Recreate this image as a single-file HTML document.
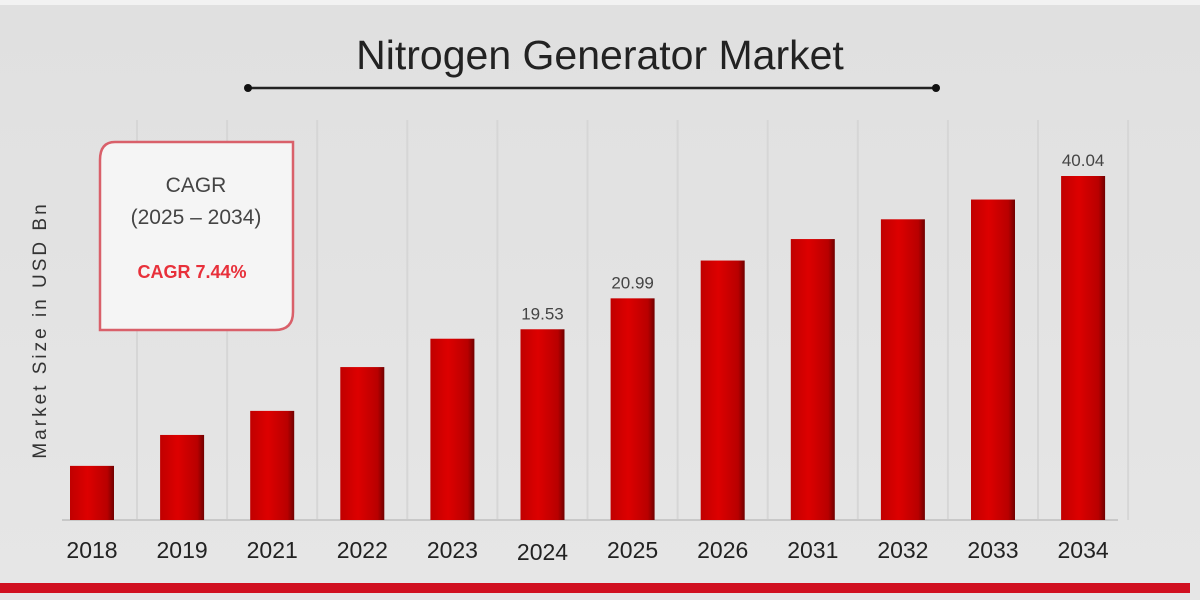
<!DOCTYPE html>
<html><head><meta charset="utf-8"><style>
html,body{margin:0;padding:0;width:1200px;height:600px;overflow:hidden;background:#e2e2e2;font-family:"Liberation Sans",sans-serif;}
</style></head><body>
<svg id="chart" width="1200" height="600" viewBox="0 0 1200 600">
<defs>
<linearGradient id="bg" x1="0" y1="0" x2="0" y2="1"><stop offset="0" stop-color="#e0e0e0"/><stop offset="1" stop-color="#e6e6e6"/></linearGradient>
<linearGradient id="bar" x1="0" y1="0" x2="1" y2="0"><stop offset="0" stop-color="#c00000"/><stop offset="0.4" stop-color="#dd0000"/><stop offset="0.85" stop-color="#b80000"/><stop offset="1" stop-color="#700000"/></linearGradient>
</defs>
<rect x="0" y="0" width="1200" height="600" fill="url(#bg)"/>
<rect x="0" y="0" width="1200" height="5" fill="#f2f2f2"/>
<g id="grid"></g>
<text x="600" y="69" text-anchor="middle" font-size="41" fill="#222">Nitrogen Generator Market</text>
<line x1="248" y1="88" x2="936" y2="88" stroke="#222" stroke-width="2.5"/>
<circle cx="248" cy="88" r="4" fill="#111"/>
<circle cx="936" cy="88" r="4" fill="#111"/>
<g>
<path d="M115 142 H293 V312 Q293 330 275 330 H100 V160 Q100 142 115 142 Z" fill="#f5f5f5" stroke="#d9606a" stroke-width="2.5"/>
<text x="196" y="192" text-anchor="middle" font-size="21" fill="#444">CAGR</text>
<text x="196" y="224" text-anchor="middle" font-size="21" fill="#444">(2025 – 2034)</text>
<text x="192" y="278" text-anchor="middle" font-size="18" font-weight="bold" fill="#e8303a">CAGR  7.44%</text>
</g>
<text transform="translate(46,330) rotate(-90)" text-anchor="middle" font-size="19" letter-spacing="3" fill="#333">Market Size in USD Bn</text>
<line x1="62" y1="520" x2="1118" y2="520" stroke="#c8c8c8" stroke-width="2"/>
<g id="bars"></g>
<g id="labels"></g>
<rect x="0" y="583" width="1190" height="10" fill="#d01020"/>
</svg>
<script>
const categories=["2018","2019","2021","2022","2023","2024","2025","2026","2031","2032","2033","2034"];
const values=[6.3,9.9,12.7,17.8,21.1,22.2,25.8,30.2,32.7,35.0,37.3,40.04];
const valueLabels=["","","","","","19.53","20.99","","","","","40.04"];
const yMax=40.04;
const NS="http://www.w3.org/2000/svg";
const x0=70,step=90.1,bw=44,base=520,plotH=344;
function xScale(i){return x0+i*step;}
function yScale(v){return base-v/yMax*plotH;}
const gb=document.getElementById('bars'),gl=document.getElementById('labels'),gg=document.getElementById('grid');
categories.forEach((c,i)=>{
  const x=xScale(i),y=yScale(values[i]);
  const gl1=document.createElementNS(NS,'line');
  gl1.setAttribute('x1',x+bw/2+45);gl1.setAttribute('x2',x+bw/2+45);gl1.setAttribute('y1',120);gl1.setAttribute('y2',520);
  gl1.setAttribute('stroke','#d6d6d6');gl1.setAttribute('stroke-width','2');
  
  
  gg.appendChild(gl1);
  const r=document.createElementNS(NS,'rect');
  r.setAttribute('x',x);r.setAttribute('y',y);r.setAttribute('width',bw);r.setAttribute('height',base-y);r.setAttribute('fill','url(#bar)');
  
  
  gb.appendChild(r);
  const t=document.createElementNS(NS,'text');
  t.setAttribute('x',x+bw/2);t.setAttribute('y',i===5?560:558);t.setAttribute('text-anchor','middle');t.setAttribute('font-size','23');t.setAttribute('fill','#222');
  t.textContent=c;
  
  
  gl.appendChild(t);
  if(valueLabels[i]){
    const v=document.createElementNS(NS,'text');
    v.setAttribute('x',x+bw/2);v.setAttribute('y',y-10);v.setAttribute('text-anchor','middle');v.setAttribute('font-size','17');v.setAttribute('fill','#444');
    v.textContent=valueLabels[i];
    
    
    gl.appendChild(v);
  }
});
</script>
</body></html>
